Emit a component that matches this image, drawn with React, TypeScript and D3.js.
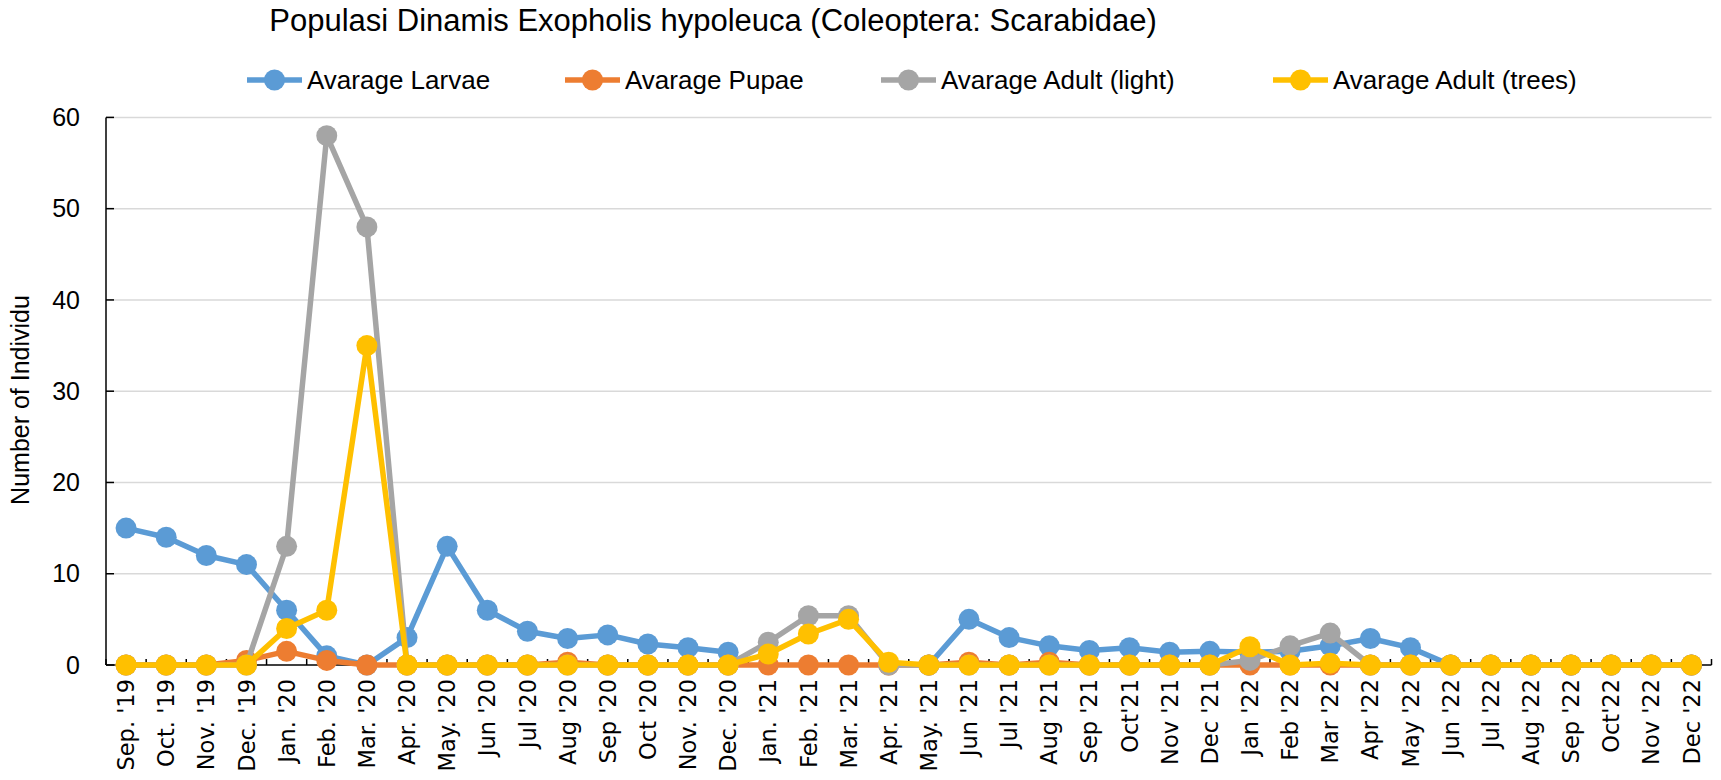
import { useEffect } from "react";
import * as d3 from "d3";

// month labels along the x axis
const months = [
  "Sep. '19", "Oct. '19", "Nov. '19", "Dec. '19", "Jan. '20", "Feb. '20", "Mar. '20", "Apr. '20",
  "May. '20", "Jun '20", "Jul '20", "Aug '20", "Sep '20", "Oct '20", "Nov. '20", "Dec. '20",
  "Jan. '21", "Feb. '21", "Mar. '21", "Apr. '21", "May. '21", "Jun '21", "Jul '21", "Aug '21",
  "Sep '21", "Oct'21", "Nov '21", "Dec '21", "Jan '22", "Feb '22", "Mar '22", "Apr '22",
  "May '22", "Jun '22", "Jul '22", "Aug '22", "Sep '22", "Oct'22", "Nov '22", "Dec '22",
];

const larvae = [
  15, 14, 12, 11, 6, 1, 0, 3, 13, 6, 3.7, 2.9, 3.3, 2.3, 1.9, 1.4,
  null, null, null, null, 0, 5, 3, 2.1, 1.6, 1.9, 1.4, 1.5, 1.4, 1.5, 2.1, 2.9,
  1.9, 0, 0, 0, 0, 0, 0, 0,
];
const pupae = [
  0, 0, 0, 0.5, 1.5, 0.5, 0, 0, 0, 0, 0, 0.3, 0, 0, 0, 0,
  0, 0, 0, 0, 0, 0.3, 0, 0.3, 0, 0, 0, 0, 0, 0, 0, 0,
  0, 0, 0, 0, 0, 0, 0, 0,
];
const adultLight = [
  0, 0, 0, 0, 13, 58, 48, 0, 0, 0, 0, 0, 0, 0, 0, 0,
  2.5, 5.4, 5.4, 0, 0, 0, 0, 0, 0, 0, 0, 0, 0.5, 2.1, 3.5, 0,
  0, 0, 0, 0, 0, 0, 0, 0,
];
const adultTrees = [
  0, 0, 0, 0, 4, 6, 35, 0, 0, 0, 0, 0, 0, 0, 0, 0,
  1.2, 3.4, 5.0, 0.3, 0, 0, 0, 0, 0, 0, 0, 0, 2.0, 0, 0.2, 0,
  0, 0, 0, 0, 0, 0, 0, 0,
];

const seriesNames = ["Avarage Larvae", "Avarage Pupae", "Avarage Adult (light)", "Avarage Adult (trees)"];
const colours = ["#5B9BD5", "#ED7D31", "#A5A5A5", "#FFC000"];
const yTicks = [0, 10, 20, 30, 40, 50, 60];

const W = 1721;
const H = 780;
const left = 106;
const right = 1711.5;
const top = 117.4;
const bottom = 665;
const calibri = "'Liberation Sans', Arial, sans-serif";

export default function App() {
  useEffect(() => {
    document.body.style.margin = "0";
    document.body.style.overflow = "hidden";
  }, []);

  const x = d3.scaleBand().domain(months).range([left, right]);
  const cx = (i) => x(months[i]) + x.bandwidth() / 2;
  const y = d3.scaleLinear().domain([0, 60]).range([bottom, top]);

  const line = d3
    .line()
    .defined((d) => d != null)
    .x((d, i) => cx(i))
    .y((d) => y(d));

  const allSeries = [larvae, pupae, adultLight, adultTrees];
  const legendX = [247, 565, 881, 1273];

  return (
    <svg width={W} height={H} style={{ display: "block", background: "#fff" }}>
      <text x={713} y={31} textAnchor="middle" fontFamily={calibri} fontSize={31} fill="#000">
        Populasi Dinamis Exopholis hypoleuca (Coleoptera: Scarabidae)
      </text>

      {/* legend */}
      {seriesNames.map((name, k) => (
        <g key={name}>
          <line x1={legendX[k]} x2={legendX[k] + 55} y1={80} y2={80} stroke={colours[k]} strokeWidth={5.5} />
          <circle cx={legendX[k] + 27.5} cy={80} r={10.5} fill={colours[k]} />
          <text x={legendX[k] + 60} y={80} dy="0.35em" fontFamily={calibri} fontSize={26} fill="#000">
            {name}
          </text>
        </g>
      ))}

      {/* gridlines */}
      {yTicks.filter((t) => t > 0).map((t) => (
        <line key={t} x1={left} x2={right} y1={y(t)} y2={y(t)} stroke="#d9d9d9" strokeWidth={1.5} />
      ))}

      {/* axes */}
      <line x1={left} x2={left} y1={top} y2={bottom} stroke="#000" strokeWidth={1.5} />
      <line x1={left} x2={right} y1={bottom} y2={bottom} stroke="#000" strokeWidth={1.5} />
      {yTicks.map((t) => (
        <g key={"yt" + t}>
          <line x1={left} x2={left + 8} y1={y(t)} y2={y(t)} stroke="#000" strokeWidth={1.5} />
          <text x={80} y={y(t)} dy="0.35em" textAnchor="end" fontFamily={calibri} fontSize={25} fill="#000">
            {t}
          </text>
        </g>
      ))}
      {d3.range(months.length + 1).map((i) => {
        const xx = left + i * x.step();
        return <line key={"xt" + i} x1={xx} x2={xx} y1={bottom} y2={bottom - 6} stroke="#000" strokeWidth={1.5} />;
      })}

      <text
        transform={`translate(20,400) rotate(-90)`}
        textAnchor="middle"
        dy="0.35em"
        fontFamily={calibri}
        fontSize={25}
        fill="#000"
      >
        Number of Individu
      </text>

      {/* series */}
      {allSeries.map((data, k) => (
        <g key={"s" + k}>
          <path d={line(data)} fill="none" stroke={colours[k]} strokeWidth={5.5} strokeLinejoin="round" />
          {data.map((d, i) =>
            d == null ? null : <circle key={i} cx={cx(i)} cy={y(d)} r={10.5} fill={colours[k]} />
          )}
        </g>
      ))}

      {/* x labels */}
      {months.map((m, i) => (
        <text
          key={m}
          transform={`translate(${cx(i)},679) rotate(-90)`}
          textAnchor="end"
          dy="0.36em"
          fontFamily="'DejaVu Sans', Verdana, sans-serif"
          fontSize={22.5}
          fill="#000"
        >
          {m}
        </text>
      ))}
    </svg>
  );
}
